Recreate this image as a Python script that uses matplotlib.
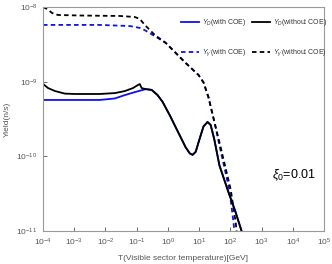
import numpy as np
import matplotlib.pyplot as plt

plt.rcParams['font.family'] = ['Liberation Sans', 'DejaVu Sans']
plt.rcParams['mathtext.fontset'] = 'custom'
plt.rcParams['mathtext.rm'] = 'Liberation Sans'
plt.rcParams['mathtext.it'] = 'Liberation Sans:italic'

# log10 values
lt_dash_k = [-4, -3.87, -3.71, -3.52, -2.82, -1.54, -1.06, -0.90, -0.74, -0.42, -0.07, 0.57, 0.98, 1.14, 1.30, 1.53, 1.65, 2.01, 2.17, 2.20]
ly_dash_k = [-8.0, -8.027, -8.08, -8.107, -8.114, -8.12, -8.134, -8.16, -8.24, -8.375, -8.48, -8.75, -8.91, -9.01, -9.21, -9.61, -9.81, -10.44, -10.88, -11.0]

lt_dash_b = [-4, -2.18, -1.22, -0.90, -0.74, -0.58, -0.42, -0.07, 0.57, 0.98, 1.14, 1.30, 1.53, 1.65, 1.97, 2.10, 2.13]
ly_dash_b = [-8.24, -8.24, -8.255, -8.28, -8.31, -8.35, -8.39, -8.48, -8.75, -8.91, -9.01, -9.21, -9.61, -9.85, -10.45, -10.88, -11.0]

lt_sol_k = [-4, -3.84, -3.62, -3.30, -2.98, -2.18, -1.70, -1.38, -1.12, -0.96, -0.90, -0.84, -0.71, -0.52, -0.33, -0.17, 0.06, 0.38, 0.57, 0.70, 0.79, 0.89, 1.02, 1.14, 1.27, 1.37, 1.49, 1.65, 1.94, 2.17, 2.36]
ly_sol_k = [-9.03, -9.085, -9.125, -9.16, -9.165, -9.165, -9.153, -9.126, -9.086, -9.045, -9.032, -9.086, -9.10, -9.11, -9.18, -9.27, -9.45, -9.72, -9.88, -9.96, -9.98, -9.94, -9.76, -9.60, -9.54, -9.58, -9.78, -10.12, -10.48, -10.75, -11.0]

lt_sol_b = [-4, -2.18, -1.70, -1.38, -1.06, -0.71, -0.52, -0.33, -0.17, 0.06, 0.38, 0.57, 0.70, 0.79, 0.89, 1.02, 1.14, 1.27, 1.37, 1.49, 1.65, 1.94, 2.17, 2.36]
ly_sol_b = [-9.245, -9.245, -9.225, -9.18, -9.14, -9.10, -9.11, -9.18, -9.27, -9.45, -9.72, -9.88, -9.96, -9.98, -9.94, -9.76, -9.60, -9.54, -9.58, -9.78, -10.12, -10.48, -10.75, -11.0]

blue = '#1010ee'
gray = '#555555'

fig = plt.figure(figsize=(3.32, 2.64), dpi=100)
ax = fig.add_axes([43/332, 1-231/264, 281/332, 224/264])

ax.plot(10**np.array(lt_sol_b), 10**np.array(ly_sol_b), color=blue, lw=1.3, label=r'$Y_D$(with COE)')
ax.plot(10**np.array(lt_dash_b), 10**np.array(ly_dash_b), color=blue, lw=1.3, ls=(0, (2.5, 1.8)), label=r"$Y_{\gamma'}$(with COE)")
ax.plot(10**np.array(lt_sol_k), 10**np.array(ly_sol_k), color='black', lw=1.3, label=r'$Y_D$(without COE)')
ax.plot(10**np.array(lt_dash_k), 10**np.array(ly_dash_k), color='black', lw=1.3, ls=(0, (2.5, 1.8)), label=r"$Y_{\gamma'}$(without COE)")

ax.set_xscale('log')
ax.set_yscale('log')
ax.set_xlim(1e-4, 1e5)
ax.set_ylim(1e-11, 1e-8)
ax.set_xticks([10.0**k for k in range(-4, 6)])
ax.set_yticks([1e-11, 1e-10, 1e-9, 1e-8])
ax.minorticks_off()
ax.tick_params(direction='in', labelsize=6, colors=gray, length=3, width=0.6, pad=4)
for s in ax.spines.values():
    s.set_color('#999999')
    s.set_linewidth(0.8)

ax.set_xlabel('T(Visible sector temperature)[GeV]', fontsize=6, color=gray, labelpad=5)
ax.set_ylabel('Yield(n/s)', fontsize=6, color=gray, labelpad=4)

leg = ax.legend(ncol=2, loc='upper left', bbox_to_anchor=(0.49, 0.955), frameon=False,
                fontsize=5, handlelength=2.6, columnspacing=0.9, labelspacing=2.8,
                handletextpad=0.4, borderaxespad=0, borderpad=0)
for t in leg.get_texts():
    t.set_color('#333333')

ax.text(0.97, 0.25, r'$\xi_0$=0.01', transform=ax.transAxes, fontsize=9, ha='right', va='center')

fig.savefig('out.png', dpi=100)
